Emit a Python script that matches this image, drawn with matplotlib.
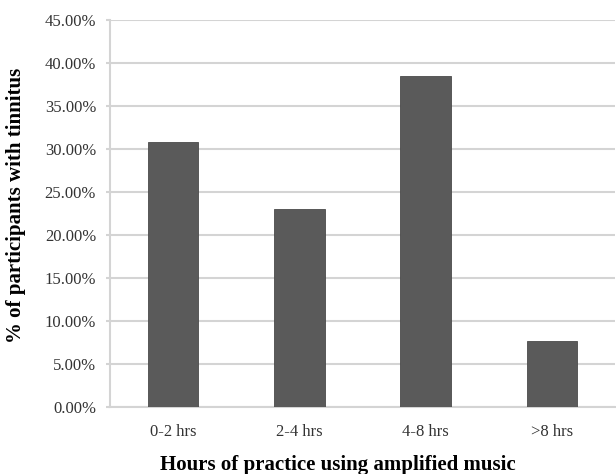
import matplotlib
matplotlib.use("Agg")
import matplotlib.pyplot as plt
from matplotlib.ticker import FuncFormatter, MultipleLocator

categories = ["0-2 hrs", "2-4 hrs", "4-8 hrs", ">8 hrs"]
values = [30.77, 23.08, 38.46, 7.69]

plt.rcParams['font.family'] = ['Liberation Serif', 'DejaVu Serif']

fig = plt.figure(figsize=(6.16, 4.74), dpi=100)
ax = fig.add_axes([110/616, 67/474, 505/616, 387/474])

x = range(len(categories))
ax.bar(x, values, width=0.4, color="#5a5a5a", edgecolor="#4a4a4a", linewidth=0.6, zorder=3)

ax.set_xlim(-0.5, len(categories) - 0.5)
ax.set_ylim(0, 45)
ax.yaxis.set_major_locator(MultipleLocator(5))
ax.yaxis.set_major_formatter(FuncFormatter(lambda v, p: f"{v:.2f}%"))
ax.set_xticks(list(x))
ax.set_xticklabels(categories)

ax.grid(axis='y', color="#d4d4d4", linewidth=1.5, zorder=0)
for s in ['top', 'right']:
    ax.spines[s].set_visible(False)
for s in ['left', 'bottom']:
    ax.spines[s].set_color("#d4d4d4")
    ax.spines[s].set_linewidth(1.5)

ax.tick_params(axis='y', length=3, width=1.5, color="#d4d4d4", labelsize=12, labelcolor="#333333", pad=7)
ax.tick_params(axis='x', length=0, labelsize=12, labelcolor="#333333", pad=12)

fig.text(338/616, 1 - 465/474, "Hours of practice using amplified music",
         fontsize=15, fontweight='bold', ha='center', va='center')
fig.text(16/616, 1 - 205/474, "% of participants with tinnitus",
         fontsize=15, fontweight='bold', ha='center', va='center', rotation=90)

fig.savefig("out.png", dpi=100)
